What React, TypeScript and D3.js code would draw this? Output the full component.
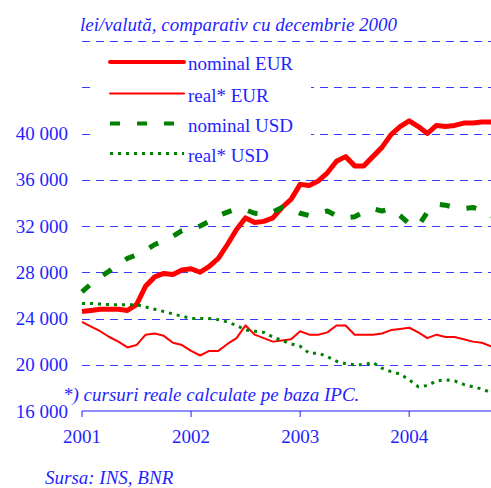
import React, { useEffect, useRef } from "react";
import * as d3 from "d3";

// monthly, Jan 2001 .. Oct 2004
const nominalEur = [
  24600, 24700, 24800, 24800, 24800, 24700, 25200, 26800, 27600, 27900, 27800, 28200,
  28300, 28000, 28500, 29200, 30400, 31700, 32700, 32300, 32400, 32700, 33600, 34300,
  35600, 35500, 35900, 36600, 37600, 38000, 37200, 37200, 38000, 38800, 39900, 40600,
  41100, 40600, 40000, 40700, 40600, 40700, 40900, 40900, 41000, 41000,
];
const realEur = [
  23700, 23300, 22900, 22400, 22000, 21500, 21700, 22600, 22700, 22500, 21900, 21700,
  21200, 20800, 21200, 21200, 21800, 22300, 23400, 22600, 22300, 22000, 22100, 22200,
  22900, 22600, 22600, 22800, 23400, 23400, 22600, 22600, 22600, 22700, 23000, 23100,
  23200, 22800, 22300, 22600, 22400, 22400, 22200, 22000, 21900, 21600,
];
const nominalUsd = [
  26300, 27000, 27600, 28100, 28700, 29200, 29500, 29900, 30400, 30700, 31100, 31600,
  31700, 32000, 32400, 32900, 33200, 33500, 33400, 33100, 33000, 33200, 33600, 33500,
  33100, 32900, 33100, 33300, 32900, 32700, 32800, 33200, 33500, 33300, 33500, 32900,
  32200, 32000, 33200, 33900, 33800, 33600, 33500, 33600, 33400, 32800,
];
const realUsd = [
  25300, 25300, 25250, 25200, 25200, 25200, 25200, 25000, 24800, 24600, 24400, 24200,
  24000, 24000, 24000, 23900, 23700, 23400, 23000, 22900, 22800, 22400, 22100, 21800,
  21600, 21000, 21000, 20700, 20300, 20100, 20000, 20000, 20200, 19700, 19400, 19200,
  18700, 18100, 18200, 18600, 18700, 18600, 18300, 18100, 17900, 17600,
];
const years = ["2001", "2002", "2003", "2004"];
const yLabels = [16000, 20000, 24000, 28000, 32000, 36000, 40000];
const gridValues = [20000, 24000, 28000, 32000, 36000, 40000, 44000, 48000];

const series = [
  { name: "nominal EUR", data: nominalEur, color: "#ff0000", width: 5, dash: null },
  { name: "real* EUR", data: realEur, color: "#ff0000", width: 2, dash: null },
  { name: "nominal USD", data: nominalUsd, color: "#008000", width: 5, dash: "10,17" },
  { name: "real* USD", data: realUsd, color: "#008000", width: 3, dash: "3,5" },
];

const blue = "#1f1fff";
const font = "Liberation Serif, Tinos, Times New Roman, Times, DejaVu Serif";

const App: React.FC = () => {
  const ref = useRef<SVGSVGElement>(null);

  useEffect(() => {
    const svg = d3.select(ref.current);
    svg.selectAll("*").remove();

    const x = d3.scaleLinear().domain([0, 45]).range([82, 491]);
    const y = d3.scaleLinear().domain([16000, 48000]).range([411, 41]);

    // gridlines
    svg.append("g")
      .selectAll("line")
      .data(gridValues)
      .enter().append("line")
      .attr("x1", 82).attr("x2", 491)
      .attr("y1", d => Math.round(y(d)) + 0.5)
      .attr("y2", d => Math.round(y(d)) + 0.5)
      .attr("stroke", "#3a3aff")
      .attr("stroke-dasharray", "8,6");

    // legend background hides gridlines
    svg.append("rect")
      .attr("x", 90).attr("y", 48).attr("width", 221).attr("height", 122)
      .attr("fill", "#fff");

    // x axis
    const axis = svg.append("g").attr("transform", `translate(0, ${y(16000)})`);
    axis.append("line")
      .attr("x1", x(0)).attr("x2", 491)
      .attr("stroke", blue).attr("stroke-width", 1);
    axis.selectAll(".tk")
      .data(years)
      .enter().append("line")
      .attr("x1", (d, i) => x(i * 12)).attr("x2", (d, i) => x(i * 12))
      .attr("y1", 0).attr("y2", 6)
      .attr("stroke", blue);
    axis.selectAll("text")
      .data(years)
      .enter().append("text")
      .attr("x", (d, i) => x(i * 12))
      .attr("y", 32)
      .attr("text-anchor", "middle")
      .text(d => d);

    // y labels
    svg.append("g")
      .selectAll("text")
      .data(yLabels)
      .enter().append("text")
      .attr("x", 68)
      .attr("y", d => y(d) + 6.5)
      .attr("text-anchor", "end")
      .text(d => d3.format(",")(d).replace(",", " "));

    // series
    const line = d3.line<number>()
      .x((d, i) => x(i))
      .y(d => y(d));
    series.forEach(s => {
      svg.append("path")
        .datum(s.data)
        .attr("d", line)
        .attr("fill", "none")
        .attr("stroke", s.color)
        .attr("stroke-width", s.width)
        .attr("stroke-linejoin", "round")
        .attr("stroke-dasharray", s.dash);
    });

    // legend
    const lg = svg.append("g")
      .selectAll("g")
      .data(series)
      .enter().append("g")
      .attr("transform", (d, i) => `translate(0, ${[62, 93.5, 123.5, 153.5][i]})`);
    lg.append("line")
      .attr("x1", 110).attr("x2", 184)
      .attr("stroke", d => d.color)
      .attr("stroke-width", d => d.width === 5 ? 4 : d.width)
      .attr("stroke-dasharray", d => d.dash)
      .attr("stroke-linecap", d => d.dash ? "butt" : "round");
    lg.append("text")
      .attr("x", 188).attr("y", 8)
      .text(d => d.name);

    // titles
    svg.append("text")
      .attr("x", 80).attr("y", 31)
      .attr("font-style", "italic")
      .text("lei/valută, comparativ cu decembrie 2000");
    svg.append("text")
      .attr("x", 63).attr("y", 401)
      .attr("font-style", "italic")
      .text("*) cursuri reale calculate pe baza IPC.");
    svg.append("text")
      .attr("x", 45).attr("y", 484)
      .attr("font-style", "italic")
      .text("Sursa: INS, BNR");

    svg.selectAll("text")
      .attr("fill", blue)
      .attr("font-family", font)
      .attr("font-size", 19);
  }, []);

  return (
    <svg ref={ref} width={491} height={488}
      style={{ position: "absolute", left: 0, top: 0, background: "#fff" }} />
  );
};

export default App;
